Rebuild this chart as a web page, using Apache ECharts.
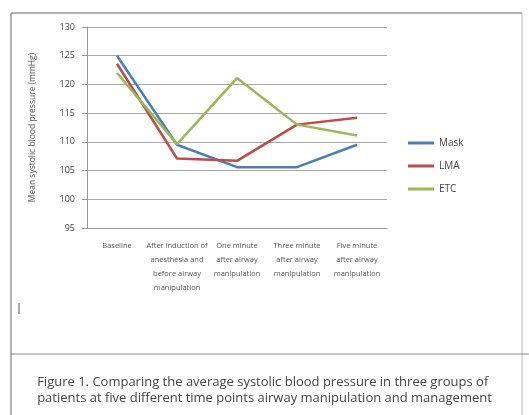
<!DOCTYPE html>
<html>
<head>
<meta charset="utf-8">
<script src="https://cdn.jsdelivr.net/npm/echarts@6/dist/echarts.min.js"></script>
<style>
  html, body { margin: 0; padding: 0; background: #fff; }
  #chart { width: 529px; height: 415px; }
</style>
</head>
<body>
<div id="chart"></div>
<script>
// time points on the x axis
var categories = [
    'Baseline',
    'After induction of\nanesthesia and\nbefore airway\nmanipulation',
    'One minute\nafter airway\nmanipulation',
    'Three minute\nafter airway\nmanipulation',
    'Five minute\nafter airway\nmanipulation'
];
// mean systolic blood pressure (mmHg) per group
var maskData = [125, 109.5, 105.6, 105.6, 109.5];
var lmaData = [123.6, 107.1, 106.7, 113.0, 114.2];
var etcData = [122.0, 109.6, 121.1, 113.0, 111.1];
var yTicks = [95, 100, 105, 110, 115, 120, 125, 130];

var captionText = 'Figure 1. Comparing the average systolic blood pressure in three groups of\npatients at five different time points airway manipulation and management';

var myChart = echarts.init(document.getElementById('chart'));

function lineSeries(name, data, color) {
    return {
        name: name,
        type: 'line',
        data: data,
        symbol: 'none',
        lineStyle: { color: color, width: 2.5 },
        itemStyle: { color: color }
    };
}

var option = {
    backgroundColor: '#fff',
    textStyle: { fontFamily: 'Open Sans' },
    animation: false,
    grid: { left: 87, top: 27, width: 300, height: 201 },
    legend: {
        orient: 'vertical',
        left: 403,
        top: 133,
        itemWidth: 26,
        itemHeight: 3,
        itemGap: 13,
        icon: 'rect',
        textStyle: { fontSize: 10, color: '#444' },
        data: ['Mask', 'LMA', 'ETC']
    },
    xAxis: {
        type: 'category',
        data: categories,
        boundaryGap: true,
        axisTick: { show: false },
        axisLine: { lineStyle: { color: '#999' } },
        axisLabel: {
            interval: 0,
            fontSize: 7.5,
            lineHeight: 14,
            color: '#555',
            margin: 11
        }
    },
    yAxis: {
        type: 'value',
        min: yTicks[0],
        max: yTicks[yTicks.length - 1],
        interval: 5,
        name: 'Mean systolic blood pressure (mmHg)',
        nameLocation: 'middle',
        nameGap: 50,
        nameTextStyle: { fontSize: 8.5, color: '#555' },
        axisLine: { show: true, lineStyle: { color: '#999' } },
        axisTick: { show: true, length: 5, lineStyle: { color: '#999' } },
        axisLabel: { fontSize: 9, color: '#444', margin: 12 },
        splitLine: { lineStyle: { color: '#a8a8a8', width: 1 } }
    },
    graphic: [
        // outer frame of the figure
        { type: 'line', shape: { x1: 11, y1: 13, x2: 522, y2: 13 }, style: { stroke: '#999', lineWidth: 1.5 } },
        { type: 'line', shape: { x1: 11, y1: 13, x2: 11, y2: 415 }, style: { stroke: '#999', lineWidth: 1.5 } },
        { type: 'line', shape: { x1: 522, y1: 13, x2: 522, y2: 415 }, style: { stroke: '#bbb', lineWidth: 1 } },
        { type: 'line', shape: { x1: 11, y1: 354, x2: 529, y2: 354 }, style: { stroke: '#888', lineWidth: 1 } },
        // text cursor
        { type: 'line', shape: { x1: 19, y1: 303, x2: 19, y2: 314 }, style: { stroke: '#555', lineWidth: 1 } },
        {
            type: 'text',
            left: 'center',
            top: 374,
            style: {
                text: captionText,
                fontSize: 13,
                lineHeight: 16,
                fill: '#444',
                align: 'center',
                fontFamily: 'Open Sans'
            }
        }
    ],
    series: [
        lineSeries('Mask', maskData, '#4a7ebb'),
        lineSeries('LMA', lmaData, '#be4b48'),
        lineSeries('ETC', etcData, '#98b954')
    ]
};

myChart.setOption(option);
window.addEventListener('resize', function () { myChart.resize(); });
</script>
</body>
</html>
